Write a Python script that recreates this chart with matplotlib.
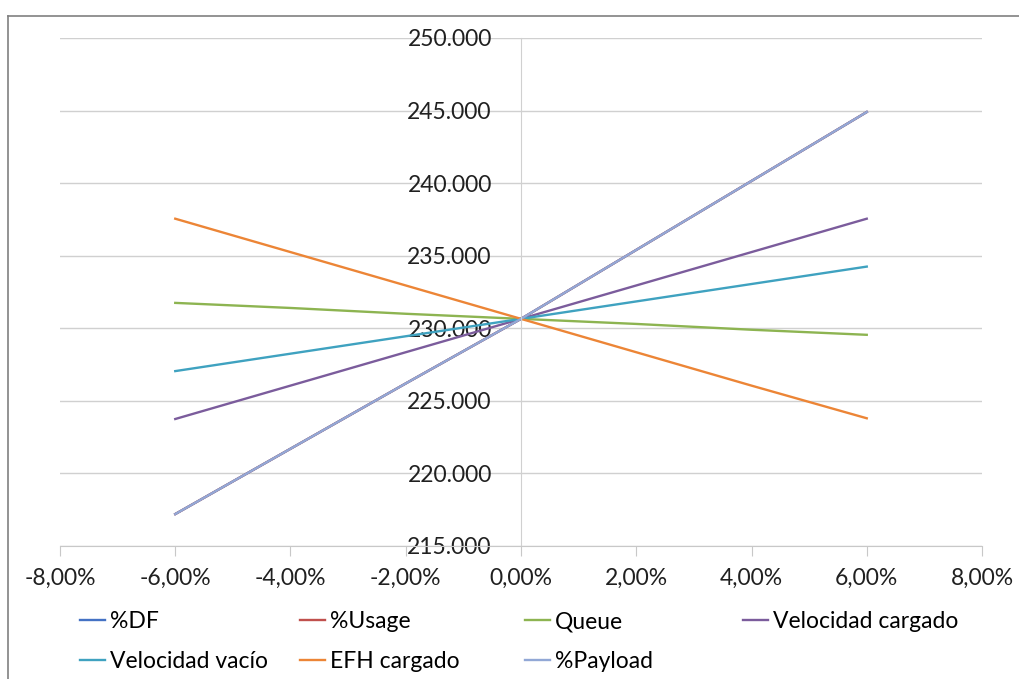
import matplotlib.pyplot as plt
from matplotlib.lines import Line2D
from matplotlib.ticker import FuncFormatter, MultipleLocator

plt.rcParams['font.family'] = ['Lato', 'DejaVu Sans']

# variación porcentual de cada parámetro
variacion = [-0.06, -0.04, -0.02, 0.0, 0.02, 0.04, 0.06]

# producción resultante para cada parámetro
df = [217200, 221700, 226200, 230650, 235400, 240150, 244900]
usage = [217200, 221700, 226200, 230650, 235400, 240150, 244900]
queue = [231750, 231400, 231000, 230650, 230300, 229900, 229550]
vel_cargado = [223750, 226050, 228350, 230650, 232950, 235250, 237550]
vel_vacio = [227050, 228250, 229450, 230650, 231850, 233050, 234250]
efh_cargado = [237550, 235250, 232950, 230650, 228350, 226050, 223800]
payload = [217200, 221700, 226200, 230650, 235400, 240150, 244900]

series = ['%DF', '%Usage', 'Queue', 'Velocidad cargado',
          'Velocidad vacío', 'EFH cargado', '%Payload']
valores = [df, usage, queue, vel_cargado, vel_vacio, efh_cargado, payload]
colores = ['#4472C4', '#C0504D', '#8DB451', '#7B5C9C',
           '#3FA2C0', '#EC8536', '#92A8D6']

fig = plt.figure(figsize=(10.19, 6.79), dpi=100)
ax = fig.add_axes([60 / 1019, 1 - 546 / 679, 922 / 1019, 508 / 679])

lineas = []
for nombre, y, c in zip(series, valores, colores):
    l, = ax.plot(variacion, y, color=c, linewidth=1.7, label=nombre)
    lineas.append(l)

ax.set_xlim(-0.08, 0.08)
ax.set_ylim(215000, 250000)
ax.xaxis.set_major_locator(MultipleLocator(0.02))
ax.yaxis.set_major_locator(MultipleLocator(5000))
# formato con coma decimal y punto de miles
ax.xaxis.set_major_formatter(FuncFormatter(
    lambda v, p: f"{v * 100:.2f}%".replace('.', ',').replace('-0,00', '0,00')))
ax.yaxis.set_major_formatter(FuncFormatter(lambda v, p: f"{v / 1000:.3f}"))

# eje Y cruzando en x = 0
ax.spines['left'].set_position(('data', 0))
ax.spines['left'].set_color('#D0D0D0')
ax.spines['bottom'].set_color('#C8C8C8')
ax.spines['right'].set_visible(False)
ax.spines['top'].set_visible(False)
ax.tick_params(axis='y', length=0, pad=21, labelsize=16.5, labelcolor='#202020')
ax.tick_params(axis='x', length=7, color='#C8C8C8', direction='out', pad=9,
               labelsize=16.5, labelcolor='#202020')
ax.grid(axis='y', color='#D0D0D0', linewidth=1)
ax.set_axisbelow(True)

# leyenda en cuatro columnas
col_x = [80, 300, 525, 743]
for i, x0 in enumerate(col_x):
    h = lineas[i::4]
    fig.legend(handles=h, loc='upper left',
               bbox_to_anchor=(x0 / 1019, 1 - 611 / 679),
               frameon=False, fontsize=16.5, handlelength=1.1,
               handletextpad=0.2, labelspacing=0.85, borderaxespad=0,
               borderpad=0)

# marco del área del gráfico
fig.add_artist(Line2D([8 / 1019, 1], [1 - 16 / 679, 1 - 16 / 679],
                      color='#808080', linewidth=1.2))
fig.add_artist(Line2D([8 / 1019, 8 / 1019], [0, 1 - 16 / 679],
                      color='#808080', linewidth=1.2))

fig.savefig('out.png', dpi=100)
